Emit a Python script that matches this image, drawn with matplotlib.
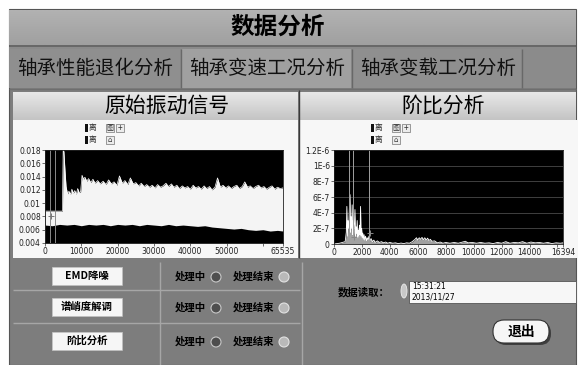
import matplotlib
matplotlib.use("Agg")
import matplotlib.pyplot as plt
import numpy as np
from matplotlib.patches import Rectangle, FancyBboxPatch, Circle, Ellipse
from matplotlib.colors import LinearSegmentedColormap

plt.rcParams["font.family"] = ["Noto Sans CJK SC", "DejaVu Sans"]

# ---- raw vibration signal: white band between lower and upper envelope ----
sig_up_x = [0, 4800, 5000, 5200, 5500, 5800, 6200, 6600, 7000, 7400, 7800, 8200, 8600,
            9000, 9400, 9800, 10200, 10600, 11000, 11500, 12000, 12600, 13200, 13800,
            14500, 15200, 16000, 16800, 17500, 18300, 19000, 19800, 20500, 21300, 22000,
            22800, 23500, 24300, 25000, 25800, 26500, 27300, 28000, 28800, 29500, 30300,
            31000, 31800, 32500, 33300, 34000, 34800, 35500, 36300, 37000, 37800, 38500,
            39300, 40000, 40800, 41500, 42300, 43000, 43800, 44500, 45300, 46000, 46800,
            47500, 48300, 49000, 49800, 50500, 51300, 52000, 52800, 53500, 54300, 55000,
            55800, 56500, 57300, 58000, 58800, 59500, 60300, 61000, 61800, 62500, 63300,
            64000, 64800, 65535]
sig_up_y = [0.0088, 0.0088, 0.0180, 0.0178, 0.0150, 0.0125, 0.0114, 0.0118, 0.0113, 0.0121,
            0.0115, 0.0119, 0.0113, 0.0122, 0.0116, 0.0117, 0.0142, 0.0136, 0.0139, 0.0133,
            0.0137, 0.0131, 0.0136, 0.0130, 0.0134, 0.0129, 0.0133, 0.0128, 0.0135, 0.0129,
            0.0132, 0.0127, 0.0141, 0.0130, 0.0134, 0.0128, 0.0138, 0.0129, 0.0131, 0.0126,
            0.0130, 0.0125, 0.0128, 0.0124, 0.0127, 0.0123, 0.0128, 0.0124, 0.0126, 0.0130,
            0.0125, 0.0129, 0.0124, 0.0127, 0.0122, 0.0126, 0.0123, 0.0125, 0.0121, 0.0127,
            0.0123, 0.0125, 0.0121, 0.0126, 0.0122, 0.0125, 0.0120, 0.0124, 0.0138, 0.0124,
            0.0127, 0.0123, 0.0126, 0.0122, 0.0125, 0.0127, 0.0122, 0.0125, 0.0132, 0.0124,
            0.0126, 0.0122, 0.0125, 0.0127, 0.0123, 0.0125, 0.0121, 0.0124, 0.0126, 0.0121,
            0.0124, 0.0122, 0.0123]
sig_low_x = [0, 2000, 4000, 6000, 8000, 10000, 12000, 14000, 16000, 18000, 20000, 22000,
             24000, 26000, 28000, 30000, 32000, 34000, 36000, 38000, 40000, 42000, 44000,
             46000, 48000, 50000, 52000, 54000, 56000, 58000, 60000, 62000, 64000, 65535]
sig_low_y = [0.0067, 0.0066, 0.0068, 0.0067, 0.0068, 0.0066, 0.0068, 0.0067, 0.0068, 0.0066,
             0.0068, 0.0067, 0.0068, 0.0066, 0.0068, 0.0067, 0.0066, 0.0068, 0.0066, 0.0067,
             0.0066, 0.0065, 0.0066, 0.0064, 0.0063, 0.0062, 0.0061, 0.0062, 0.0060, 0.0059,
             0.0060, 0.0058, 0.0059, 0.0058]
sig_xticks = [0, 10000, 20000, 30000, 40000, 50000, 60000, 65535]
sig_xlabels = ["0", "10000", "20000", "30000", "40000", "50000", "", "65535"]
sig_yticks = [0.004, 0.006, 0.008, 0.01, 0.012, 0.014, 0.016, 0.018]
sig_ylabels = ["0.004", "0.006", "0.008", "0.01", "0.012", "0.014", "0.016", "0.018"]
sig_cursors = [1400, 2750]

# ---- order spectrum ----
order_x = [0, 400, 800, 880, 920, 960, 1000, 1050, 1100, 1150, 1180, 1220, 1260, 1300, 1340,
           1380, 1420, 1460, 1500, 1540, 1580, 1620, 1660, 1700, 1740, 1780, 1820, 1860,
           1900, 1940, 1980, 2020, 2060, 2100, 2150, 2200, 2260, 2320, 2380, 2440, 2500,
           2560, 2650, 2750, 2850, 2950, 3100, 3250, 3400, 3550, 3700, 3850, 4000, 4200,
           4400, 4600, 4800, 5000, 5200, 5400, 5600, 5800, 5900, 6000, 6100, 6200, 6300,
           6400, 6500, 6600, 6700, 6800, 6900, 7000, 7200, 7400, 7600, 7800, 8000, 8300,
           8600, 8900, 9200, 9400, 9600, 9900, 10200, 10500, 10800, 11100, 11400, 11700,
           12000, 12300, 12600, 12900, 13200, 13500, 13800, 14100, 14400, 14700, 15000,
           15300, 15600, 15900, 16200, 16394]
order_amp = [0.0, 0.1, 0.3, 1.5, 4.8, 1.0, 3.0, 2.0, 4.5, 6.3, 1.5, 3.5, 2.0, 5.0, 1.2,
             3.0, 1.5, 2.5, 4.4, 1.0, 2.2, 1.3, 3.0, 0.8, 1.8, 1.0, 2.4, 1.2,
             4.8, 1.0, 2.0, 0.8, 1.4, 0.6, 1.2, 0.5, 1.0, 0.4, 0.8, 0.5, 1.0,
             0.3, 0.7, 0.3, 0.5, 0.2, 0.4, 0.2, 0.3, 0.15, 0.25, 0.1, 0.2, 0.1,
             0.15, 0.05, 0.12, 0.05, 0.15, 0.1, 0.3, 0.6, 0.8, 0.5, 0.8, 0.6, 0.85,
             0.55, 0.8, 0.5, 0.75, 0.45, 0.6, 0.35, 0.4, 0.15, 0.25, 0.1, 0.2, 0.1,
             0.2, 0.1, 0.25, 0.35, 0.15, 0.2, 0.1, 0.2, 0.1, 0.15, 0.05, 0.2,
             0.1, 0.3, 0.1, 0.2, 0.15, 0.3, 0.1, 0.25, 0.15, 0.2, 0.1,
             0.2, 0.05, 0.15, 0.1, 0.15]  # x 1E-7
ord_xticks = [0, 2000, 4000, 6000, 8000, 10000, 12000, 14000, 16000, 16394]
ord_xlabels = ["0", "2000", "4000", "6000", "8000", "10000", "12000", "14000", "", "16394"]
ord_yticks = [0, 2e-7, 4e-7, 6e-7, 8e-7, 1e-6, 1.2e-6]
ord_ylabels = ["0", "2E-7", "4E-7", "6E-7", "8E-7", "1E-6", "1.2E-6"]
ord_cursors = [1100, 1380, 2530]

tabs = ["轴承性能退化分析", "轴承变速工况分析", "轴承变载工况分析"]
steps = ["EMD降噪", "谱峭度解调", "阶比分析"]

W, H = 578, 365
fig = plt.figure(figsize=(W / 100, H / 100), dpi=100)
bg = fig.add_axes([0, 0, 1, 1])
bg.axis("off")


def box(x0, y0, x1, y1, fc, ec="none", lw=0, z=1):
    bg.add_patch(Rectangle((x0, y0), x1 - x0, y1 - y0, facecolor=fc,
                           edgecolor=ec, linewidth=lw, zorder=z))


def line(xs, ys, c, lw=0.8, z=3):
    bg.plot(xs, ys, color=c, lw=lw, zorder=z, solid_capstyle="butt")


def gradient(x0, y0, x1, y1, top, bottom, z=2):
    cmap = LinearSegmentedColormap.from_list("g", [top, bottom])
    bg.imshow(np.linspace(0, 1, 32).reshape(-1, 1), cmap=cmap, aspect="auto",
              extent=(x0, x1, y1, y0), zorder=z, interpolation="bilinear")


def px_axes(x0, y0, x1, y1):
    return fig.add_axes([x0 / W, 1 - y1 / H, (x1 - x0) / W, (y1 - y0) / H])


# outer frame and title bar
box(9, 9, 576, 365, "#7d7d7d", ec="#555555", lw=0.8)
gradient(9, 10, 576, 45, "#b2b2b2", "#a0a0a0")
line([9, 576], [45.5, 45.5], "#646464", 1.2)
bg.text(278, 27, "数据分析", fontsize=17, fontweight="black", ha="center", va="center",
        zorder=5)

# tab strip
box(9, 47, 576, 88, "#8b8b8b", z=2)
tab_edges = [9, 181, 352, 522]
for i, label in enumerate(tabs):
    x0, x1 = tab_edges[i], tab_edges[i + 1]
    box(x0 + 1, 49, x1 - 1, 88, "#a0a0a0" if i == 1 else "#8f8f8f", z=2)
    line([x1, x1], [49, 88], "#686868", 1.0)
    bg.text(x0 + 8, 69, label, fontsize=14, ha="left", va="center",
            color="#111111", zorder=5)
line([9, 576], [88.5, 88.5], "#6e6e6e", 1.0)

# panel headers
gradient(13, 92, 298, 120, "#e8e8e8", "#c4c4c4")
gradient(300, 92, 576, 120, "#e8e8e8", "#c4c4c4")
bg.text(167, 106, "原始振动信号", fontsize=15, fontweight="medium", ha="center",
        va="center", zorder=5)
bg.text(443, 106, "阶比分析", fontsize=15, fontweight="medium", ha="center",
        va="center", zorder=5)

# white plot panels
box(13, 120, 298, 258, "#f7f7f7", z=2)
box(300, 120, 578, 258, "#f7f7f7", z=2)
line([299, 299], [90, 258], "#3a3a3a", 1.0)

# graph palette icons
for gx in (85, 371):
    for gy, extra in ((128, "+"), (140, None)):
        box(gx, gy - 4, gx + 3, gy + 4, "#111111", z=4)
        bg.text(gx + 4, gy, "离", fontsize=5.5, va="center", zorder=5, color="#222222")
        box(gx + 21, gy - 4, gx + 29, gy + 4, "#ececec", ec="#555555", lw=0.4, z=4)
        bg.text(gx + 25, gy, "图" if extra else "⌂", fontsize=5, ha="center",
                va="center", zorder=5, color="#333333")
        if extra:
            box(gx + 31, gy - 4, gx + 39, gy + 4, "#ececec", ec="#555555", lw=0.4, z=4)
            bg.text(gx + 35, gy, "+", fontsize=6, ha="center", va="center",
                    zorder=5, color="#333333")

# lower control area
line([13, 300], [290, 290], "#a6a6a6", 1.0)
line([13, 300], [323, 323], "#a6a6a6", 1.0)
line([160, 160], [262, 365], "#a6a6a6", 1.0)
line([302, 302], [262, 365], "#a6a6a6", 1.0)
for label, yc in zip(steps, [277, 308, 342]):
    box(53, yc - 9, 123, yc + 9, "#5e5e5e", z=3)
    box(52, yc - 10, 122, yc + 8, "#f6f6f6", ec="#c8c8c8", lw=0.5, z=4)
    bg.text(87, yc - 1, label, fontsize=7.5, fontweight="bold", ha="center",
            va="center", zorder=5)
    bg.text(190, yc, "处理中", fontsize=7.5, fontweight="bold", ha="center",
            va="center", zorder=5)
    bg.add_patch(Circle((216, yc), 5, facecolor="#4e4e4e", edgecolor="#c8c8c8",
                        lw=0.8, zorder=5))
    bg.text(254, yc, "处理结束", fontsize=7.5, fontweight="bold", ha="center",
            va="center", zorder=5)
    bg.add_patch(Circle((284, yc), 5, facecolor="#b9b9b9", edgecolor="#e2e2e2",
                        lw=0.8, zorder=5))

bg.text(364, 292, "数据读取：", fontsize=7.5, fontweight="bold", ha="center",
        va="center", zorder=5)
bg.add_patch(Ellipse((404, 291), 6, 14, facecolor="#c8c8c8", edgecolor="#eeeeee",
                     lw=0.6, zorder=5))
box(409, 281, 576, 303, "#f7f7f7", ec="#555555", lw=0.6, z=4)
bg.text(412, 286.5, "15:31:21", fontsize=5.5, va="center", zorder=5, family="DejaVu Sans")
bg.text(412, 297, "2013/11/27", fontsize=5.5, va="center", zorder=5, family="DejaVu Sans")
bg.add_patch(FancyBboxPatch((495, 322), 56, 23, boxstyle="round,pad=0,rounding_size=11",
                            facecolor="#3e3e3e", edgecolor="none", zorder=4))
bg.add_patch(FancyBboxPatch((493, 320), 56, 23, boxstyle="round,pad=0,rounding_size=11",
                            facecolor="#f6f6f6", edgecolor="#333333", lw=0.8, zorder=5))
bg.text(521, 331.5, "退出", fontsize=10, fontweight="black", ha="center", va="center",
        zorder=6)

bg.set_xlim(0, W)
bg.set_ylim(H, 0)


def style_graph(ax):
    ax.set_facecolor("black")
    for s in ax.spines.values():
        s.set_color("#222222")
        s.set_linewidth(0.6)
    ax.tick_params(labelsize=5.5, length=2, width=0.5, pad=1, colors="#333333",
                   labelcolor="#222222")
    for lab in ax.get_xticklabels() + ax.get_yticklabels():
        lab.set_family("DejaVu Sans")


# raw signal graph: white up to the upper envelope, black again below the lower one
ax1 = px_axes(45, 150, 283, 243)
ax1.fill_between(sig_up_x, 0.004, sig_up_y, color="#f4f4f4", lw=0)
ax1.plot(sig_up_x, sig_up_y, color="white", lw=0.5)
ax1.fill_between(sig_low_x, 0.004, sig_low_y, color="black", lw=0)
for c in sig_cursors:
    ax1.axvline(c, color="#8a8a8a", lw=0.7)
ax1.plot([1560], [0.0080], marker="+", ms=5, mew=0.7, color="#777777")
ax1.set_xlim(0, 65535)
ax1.set_ylim(0.004, 0.018)
ax1.set_xticks(sig_xticks, sig_xlabels)
ax1.set_yticks(sig_yticks, sig_ylabels)
style_graph(ax1)

# order spectrum graph
ax2 = px_axes(334, 150, 563, 244)
amp = [a * 1e-7 for a in order_amp]
ax2.set_axisbelow(True)
ax2.grid(axis="y", color="#4a4a4a", lw=0.6)
ax2.fill_between(order_x, 0, amp, color="#d8d8d8", alpha=0.75, lw=0)
ax2.plot(order_x, amp, color="white", lw=0.6)
for c in ord_cursors:
    ax2.axvline(c, color="#a0a0a0", lw=0.7)
ax2.plot([1430, 2580], [0.93e-7, 1.4e-7], ls="none", marker="+", ms=5, mew=0.7,
         color="#888888")
ax2.set_xlim(0, 16394)
ax2.set_ylim(0, 1.2e-6)
ax2.set_xticks(ord_xticks, ord_xlabels)
ax2.set_yticks(ord_yticks, ord_ylabels)
style_graph(ax2)

fig.savefig("out.png", dpi=100)
